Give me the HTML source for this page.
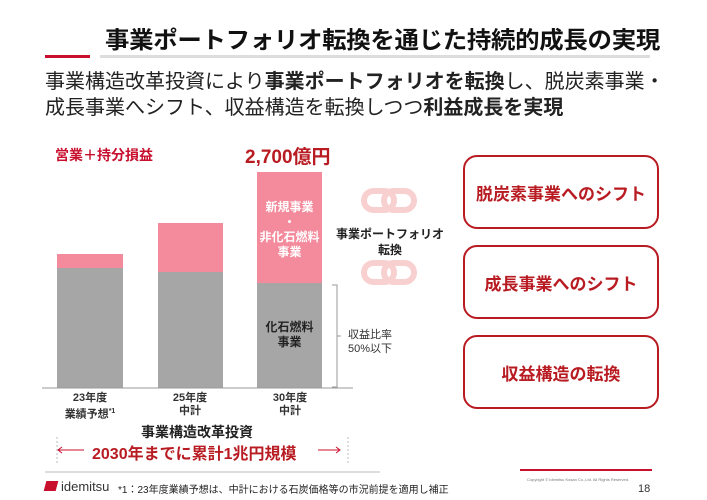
<!DOCTYPE html>
<html><head><meta charset="utf-8"><style>
body{margin:0;width:707px;height:500px;background:#fff;position:relative;overflow:hidden;font-family:"Liberation Sans","Noto Sans CJK JP",sans-serif;}
.a{position:absolute;white-space:nowrap;}
.b{font-weight:bold;}
.box{position:absolute;left:463px;width:192px;height:70px;border:2px solid #b81c22;border-radius:14px;color:#b81c22;font-weight:bold;font-size:17px;display:flex;align-items:center;justify-content:center;}
.c{text-align:center;}
</style></head><body>
<div class="a b" style="left:105px;top:21px;font-size:23.5px;color:#111;letter-spacing:-0.3px;transform:scaleX(1.04);transform-origin:left">事業ポートフォリオ転換を通じた持続的成長の実現</div>
<div class="a" style="left:45px;top:55px;width:45px;height:3px;background:#c8102e"></div>
<div class="a" style="left:100px;top:55px;width:550px;height:3px;background:#ddd"></div>
<div class="a" style="left:45px;top:69px;font-size:20px;color:#222;line-height:26px">事業構造改革投資により<b>事業ポートフォリオを転換</b>し、脱炭素事業・<br>成長事業へシフト、収益構造を転換しつつ<b>利益成長を実現</b></div>
<div class="a b" style="left:55px;top:145px;font-size:14px;color:#c8102e">営業＋持分損益</div>
<div class="a b" style="left:245px;top:142px;font-size:19px;color:#b81c22">2,700億円</div>
<svg class="a" style="left:0;top:0" width="707" height="500">
<rect x="57" y="254" width="66" height="14" fill="#f48b9c"/><rect x="57" y="268" width="66" height="120" fill="#a6a6a6"/>
<rect x="158" y="223" width="65" height="49" fill="#f48b9c"/><rect x="158" y="272" width="65" height="116" fill="#a6a6a6"/>
<rect x="257" y="172" width="65" height="111" fill="#f48b9c"/><rect x="257" y="283" width="65" height="105" fill="#a6a6a6"/>
<line x1="42" y1="388" x2="353" y2="388" stroke="#999" stroke-width="1"/>
<path d="M332 285 h5 v102 h-5 M337 336 h4" fill="none" stroke="#999"/>
<g fill="none" stroke="#f8d0d0" stroke-width="6">
<rect x="364" y="191" width="30" height="19" rx="9.5"/><rect x="384" y="191" width="30" height="19" rx="9.5"/>
<rect x="364" y="263" width="30" height="19" rx="9.5"/><rect x="384" y="263" width="30" height="19" rx="9.5"/>
</g>
<line x1="58" y1="450" x2="84" y2="450" stroke="#c8102e"/><path d="M62 447 L58 450 L62 453" fill="none" stroke="#c8102e"/>
<line x1="318" y1="450" x2="340" y2="450" stroke="#c8102e"/><path d="M336 447 L340 450 L336 453" fill="none" stroke="#c8102e"/>
<line x1="57" y1="437" x2="57" y2="463" stroke="#bbb" stroke-dasharray="2,2"/>
<line x1="348" y1="437" x2="348" y2="463" stroke="#bbb" stroke-dasharray="2,2"/>
</svg>
<div class="a b c" style="left:257px;top:200px;width:65px;font-size:12px;color:#fff;line-height:15px">新規事業<br>・<br>非化石燃料<br>事業</div>
<div class="a b c" style="left:257px;top:320px;width:65px;font-size:12px;color:#222;line-height:15px">化石燃料<br>事業</div>
<div class="a c" style="left:345px;top:328px;width:50px;font-size:11px;color:#333;line-height:14px">収益比率<br>50%以下</div>
<div class="a b c" style="left:335px;top:226px;width:110px;font-size:12px;color:#222;line-height:16px">事業ポートフォリオ<br>転換</div>
<div class="a b c" style="left:50px;top:392px;width:80px;font-size:11px;color:#333;line-height:13px">23年度<br>業績予想<sup style="font-size:7px">*1</sup></div>
<div class="a b c" style="left:150px;top:392px;width:80px;font-size:11px;color:#333;line-height:13px">25年度<br>中計</div>
<div class="a b c" style="left:250px;top:392px;width:80px;font-size:11px;color:#333;line-height:13px">30年度<br>中計</div>
<div class="a b" style="left:141px;top:422px;font-size:14px;color:#222">事業構造改革投資</div>
<div class="a b" style="left:92px;top:440px;font-size:16px;color:#b81c22">2030年までに累計1兆円規模</div>
<div class="box" style="top:155px">脱炭素事業へのシフト</div>
<div class="box" style="top:245px">成長事業へのシフト</div>
<div class="box" style="top:335px">収益構造の転換</div>
<div class="a" style="left:45px;top:471px;width:335px;height:2px;background:#ddd"></div>
<div class="a" style="left:520px;top:469px;width:132px;height:2px;background:#c8102e"></div>
<div class="a" style="left:45px;top:481px;width:12px;height:10px;background:#c8102e;transform:skewX(-15deg)"></div>
<div class="a" style="left:61px;top:479px;font-size:13px;color:#333">idemitsu</div>
<div class="a" style="left:118px;top:481px;font-size:10px;color:#222">*1：23年度業績予想は、中計における石炭価格等の市況前提を適用し補正</div>
<div class="a" style="left:527px;top:477px;font-size:4px;color:#777">Copyright © Idemitsu Kosan Co.,Ltd. All Rights Reserved.</div>
<div class="a" style="left:638px;top:483px;font-size:11px;color:#333">18</div>
</body></html>
